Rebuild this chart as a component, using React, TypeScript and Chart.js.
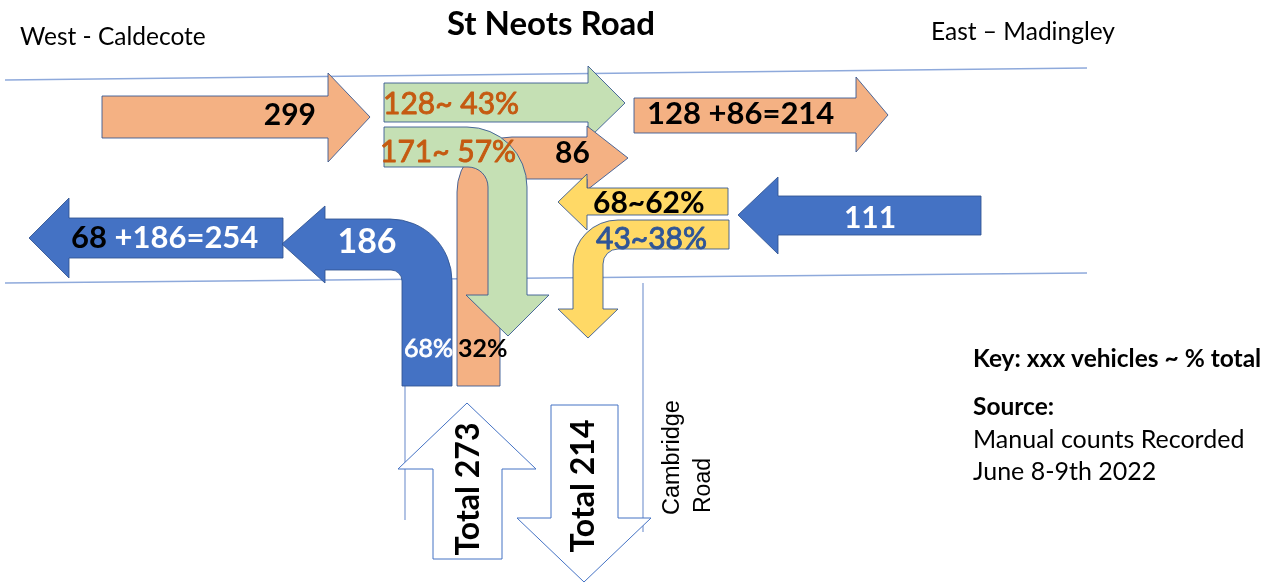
import { useEffect, useRef } from 'react';
import { Chart, registerables } from 'chart.js';

Chart.register(...registerables);

// ---------------- data (vehicle counts) ----------------
// arriving from the west: total, straight on east, right turn into Cambridge Road
const westFlows = [299, 128, 171];
const westSplitPct = [43, 57];
// arriving from the east: total, straight on west, left turn into Cambridge Road
const eastFlows = [111, 68, 43];
const eastSplitPct = [62, 38];
// arriving from Cambridge Road: total, left to the west, right to the east
const cambridgeFlows = [273, 186, 86];
const cambridgeSplitPct = [68, 32];
// leaving: to the east, to the west, down Cambridge Road
const exitFlows = [214, 254, 214];

const placeLabels = ['St Neots Road', 'West - Caldecote', 'East \u2013 Madingley', 'Cambridge', 'Road'];
const keyLabels = ['Key: xxx vehicles ~ % total', 'Source:', 'Manual counts Recorded', 'June 8-9th 2022'];

// ---------------- colours ----------------
const ORANGE = '#F4B183';
const GREEN = '#C5E0B4';
const YELLOW = '#FFD966';
const BLUE = '#4472C4';
const OUTLINE = 'rgba(47,82,143,0.85)';
const TXT_ORANGE = '#C55A11';
const TXT_BLUE = '#2F5597';
const ROAD = '#8EA9DB';

// ---------------- layout (drawing units of the hidden x / y scales) ----------------
type Pt = [number, number, number?];
const shapeWest: Pt[] = [[102, 96], [328, 96], [328, 73], [370, 117], [328, 162], [328, 138], [102, 138]];
const shapeWestStraight: Pt[] = [[384, 83], [588, 83], [588, 66], [625, 103], [588, 139], [588, 122], [384, 122]];
const shapeEastExit: Pt[] = [[634, 98], [856, 98], [856, 77], [888, 115], [856, 152], [856, 133], [634, 133]];
const shapeCamRight: Pt[] = [[457, 386], [457, 137, 55], [587, 137], [587, 126], [628, 158], [587, 190], [587, 179], [500, 179, 12], [500, 386]];
const shapeWestRight: Pt[] = [[384, 127], [527, 127, 60], [527, 295], [549, 295], [508, 336], [466, 295], [488, 295], [488, 167, 20], [384, 167]];
const shapeWestExit: Pt[] = [[283, 218], [69, 218], [69, 198], [29, 238], [69, 278], [69, 258], [283, 258]];
const shapeCamLeft: Pt[] = [[452, 386], [452, 219, 62], [325, 219], [325, 206], [282, 244], [325, 283], [325, 270], [402, 270, 11], [402, 386]];
const shapeEast: Pt[] = [[981, 196], [778, 196], [778, 177], [738, 215], [778, 254], [778, 235], [981, 235]];
const shapeEastLeft: Pt[] = [[729, 220], [573, 220, 45], [573, 309], [558, 309], [588, 338], [618, 309], [603, 309], [603, 249, 15], [729, 249]];
const shapeEastStraight: Pt[] = [[728, 188], [587, 188], [587, 174], [558, 202], [587, 230], [587, 215], [728, 215]];
const shapeCamIn: Pt[] = [[433, 559], [433, 469], [398, 469], [467, 403], [536, 469], [502, 469], [502, 559]];
const shapeCamOut: Pt[] = [[551, 405], [618, 405], [618, 518], [651, 518], [584, 582], [517, 518], [551, 518]];

const roadTop = [{ x: 5, y: 80 }, { x: 1087, y: 68 }];
const roadBottom = [{ x: 5, y: 283 }, { x: 1087, y: 273 }];
const camLeftEdge = [{ x: 405, y: 386 }, { x: 405, y: 520 }];
const camRightEdge = [{ x: 643, y: 283 }, { x: 643, y: 532 }];

const FONT = 'Lato, "Open Sans", sans-serif';
const ARIAL = '"Liberation Sans", Arial, sans-serif';

function drawShape(ctx: CanvasRenderingContext2D, map: (x: number, y: number) => [number, number], pts: Pt[], fill: string, stroke: string, lw = 1) {
  ctx.beginPath();
  const n = pts.length;
  const [x0, y0] = map(pts[0][0], pts[0][1]);
  ctx.moveTo(x0, y0);
  for (let i = 1; i < n; i++) {
    const p = pts[i];
    const [x, y] = map(p[0], p[1]);
    if (p[2]) {
      const q = pts[(i + 1) % n];
      const [qx, qy] = map(q[0], q[1]);
      ctx.arcTo(x, y, qx, qy, p[2]);
    } else {
      ctx.lineTo(x, y);
    }
  }
  ctx.closePath();
  ctx.fillStyle = fill;
  ctx.fill();
  ctx.lineWidth = lw;
  ctx.strokeStyle = stroke;
  ctx.stroke();
}

function drawText(ctx: CanvasRenderingContext2D, map: (x: number, y: number) => [number, number], s: string, x: number, y: number, font: string, color: string, align: CanvasTextAlign = 'left', rot = 0, thicken = 0) {
  const [px, py] = map(x, y);
  ctx.save();
  ctx.translate(px, py);
  if (rot) ctx.rotate(rot);
  ctx.font = font;
  ctx.fillStyle = color;
  ctx.textAlign = align;
  ctx.textBaseline = 'alphabetic';
  ctx.fillText(s, 0, 0);
  if (thicken) {
    ctx.lineWidth = thicken;
    ctx.strokeStyle = color;
    ctx.lineJoin = 'round';
    ctx.strokeText(s, 0, 0);
  }
  ctx.restore();
}

const flowPlugin = {
  id: 'flowDiagram',
  afterDatasetsDraw(chart: any) {
    const ctx: CanvasRenderingContext2D = chart.ctx;
    const xs = chart.scales.x;
    const ys = chart.scales.y;
    const map = (x: number, y: number): [number, number] => [xs.getPixelForValue(x), ys.getPixelForValue(y)];
    ctx.save();
    ctx.lineJoin = 'miter';

    drawShape(ctx, map, shapeWest, ORANGE, OUTLINE);
    drawShape(ctx, map, shapeWestStraight, GREEN, OUTLINE);
    drawShape(ctx, map, shapeEastExit, ORANGE, OUTLINE);
    drawShape(ctx, map, shapeCamRight, ORANGE, OUTLINE);
    drawShape(ctx, map, shapeWestRight, GREEN, OUTLINE);
    drawShape(ctx, map, shapeWestExit, BLUE, OUTLINE);
    drawShape(ctx, map, shapeCamLeft, BLUE, OUTLINE);
    drawShape(ctx, map, shapeEast, BLUE, OUTLINE);
    drawShape(ctx, map, shapeEastLeft, YELLOW, OUTLINE);
    drawShape(ctx, map, shapeEastStraight, YELLOW, OUTLINE);
    drawShape(ctx, map, shapeCamIn, '#FFFFFF', BLUE);
    drawShape(ctx, map, shapeCamOut, '#FFFFFF', BLUE);

    const B30 = `bold 30px ${FONT}`;
    const B31 = `bold 31px ${FONT}`;
    const N30 = `30px ${FONT}`;

    // titles
    drawText(ctx, map, placeLabels[0], 551, 35, `bold 33px ${FONT}`, '#000', 'center');
    drawText(ctx, map, placeLabels[1], 20, 45, `24.5px ${FONT}`, '#000');
    drawText(ctx, map, placeLabels[2], 931, 40, `24.5px ${FONT}`, '#000');

    // west arrivals
    drawText(ctx, map, String(westFlows[0]), 316, 125, B30, '#000', 'right');
    drawText(ctx, map, `${westFlows[1]}~ ${westSplitPct[0]}%`, 383, 114, N30, TXT_ORANGE, 'left', 0, 0.9);
    drawText(ctx, map, `${westFlows[2]}~ ${westSplitPct[1]}%`, 380, 162, N30, TXT_ORANGE, 'left', 0, 0.9);
    drawText(ctx, map, `${westFlows[1]} +${cambridgeFlows[2]}=${exitFlows[0]}`, 647, 124, B31, '#000');
    drawText(ctx, map, String(cambridgeFlows[2]), 555, 163, B30, '#000');

    // east arrivals
    drawText(ctx, map, String(eastFlows[0]), 870, 228, B30, '#FFFFFF', 'center');
    drawText(ctx, map, `${eastFlows[1]}~${eastSplitPct[0]}%`, 593, 213, B30, '#000');
    drawText(ctx, map, `${eastFlows[2]}~${eastSplitPct[1]}%`, 596, 249, N30, TXT_BLUE, 'left', 0, 0.9);

    // west exit: "68" black then " +186=254" white
    ctx.font = B31;
    const first = String(eastFlows[1]);
    const w = ctx.measureText(first).width;
    drawText(ctx, map, first, 71, 248, B31, '#000');
    drawText(ctx, map, ` +${cambridgeFlows[1]}=${exitFlows[1]}`, 71 + w, 248, B31, '#FFFFFF');

    // Cambridge Road arrivals
    drawText(ctx, map, String(cambridgeFlows[1]), 367, 253, `bold 34px ${FONT}`, '#FFFFFF', 'center');
    drawText(ctx, map, `${cambridgeSplitPct[0]}%`, 453, 357, `25px ${FONT}`, '#FFFFFF', 'right', 0, 0.8);
    drawText(ctx, map, `${cambridgeSplitPct[1]}%`, 458, 357, `bold 25px ${FONT}`, '#000');

    // totals (rotated)
    drawText(ctx, map, `Total ${cambridgeFlows[0]}`, 479, 489, `bold 32px ${FONT}`, '#000', 'center', -Math.PI / 2);
    drawText(ctx, map, `Total ${exitFlows[2]}`, 594, 486, `bold 32px ${FONT}`, '#000', 'center', -Math.PI / 2);
    drawText(ctx, map, placeLabels[3], 679, 515, `23.5px ${ARIAL}`, '#000', 'left', -Math.PI / 2);
    drawText(ctx, map, placeLabels[4], 710, 513, `23px ${ARIAL}`, '#000', 'left', -Math.PI / 2);

    // key
    drawText(ctx, map, keyLabels[0], 973, 367, `bold 24.5px ${FONT}`, '#000');
    drawText(ctx, map, keyLabels[1], 973, 415, `bold 24.5px ${FONT}`, '#000');
    drawText(ctx, map, keyLabels[2], 973, 448, `25px ${FONT}`, '#000');
    drawText(ctx, map, keyLabels[3], 973, 480, `25px ${FONT}`, '#000');

    ctx.restore();
  },
};

export default function App() {
  const ref = useRef<HTMLCanvasElement | null>(null);
  useEffect(() => {
    document.body.style.margin = '0';
    const canvas = ref.current;
    if (!canvas) return;
    const lineDs = (data: { x: number; y: number }[], color: string, width: number) => ({
      type: 'line' as const,
      data,
      borderColor: color,
      borderWidth: width,
      pointRadius: 0,
      showLine: true,
      fill: false,
    });
    const chart = new Chart(canvas, {
      type: 'scatter',
      data: {
        datasets: [
          lineDs(roadTop, ROAD, 1.5),
          lineDs(roadBottom, ROAD, 1.5),
          lineDs(camLeftEdge, '#7F9BD3', 1.2),
          lineDs(camRightEdge, '#7F9BD3', 1.2),
        ] as any,
      },
      options: {
        animation: false,
        responsive: false,
        devicePixelRatio: 1,
        layout: { padding: 0 },
        plugins: { legend: { display: false }, tooltip: { enabled: false }, title: { display: false } },
        events: [],
        scales: {
          x: { type: 'linear', min: 0, max: 1274, display: false },
          y: { type: 'linear', min: 0, max: 583, reverse: true, display: false },
        },
      },
      plugins: [flowPlugin],
    });
    return () => chart.destroy();
  }, []);
  return (
    <div style={{ width: 1274, height: 583, background: '#fff' }}>
      <canvas ref={ref} width={1274} height={583} style={{ display: 'block' }} />
    </div>
  );
}
